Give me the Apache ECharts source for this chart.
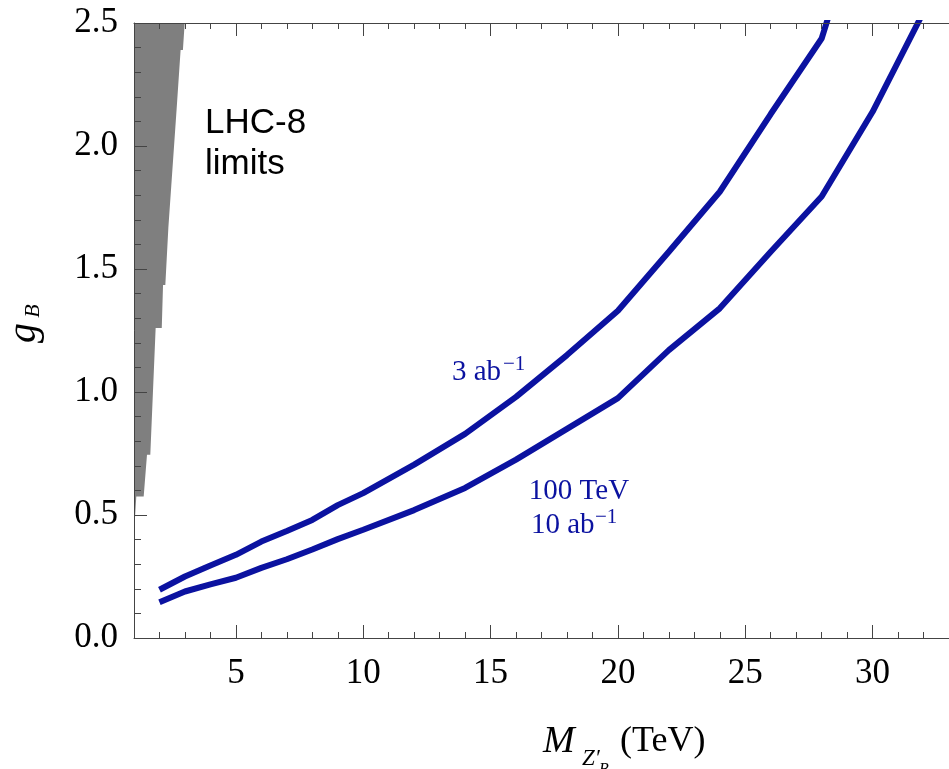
<!DOCTYPE html>
<html>
<head>
<meta charset="utf-8">
<script src="https://cdn.jsdelivr.net/npm/echarts@6/dist/echarts.min.js"></script>
<style>html,body{margin:0;padding:0;background:#fff}#c{width:949px;height:769px}</style>
</head>
<body>
<div id="c"></div>
<script>
// LHC-8 excluded region boundary (M in TeV, g_B)
const lhcX = [1.0, 1.04, 1.09, 1.38, 1.51, 1.64, 1.85, 2.09, 2.14, 2.23, 2.35, 2.40, 2.69, 2.75, 2.83, 2.92, 2.99];
const lhcY = [0.45, 0.49, 0.575, 0.575, 0.745, 0.745, 1.26, 1.26, 1.435, 1.435, 1.67, 1.67, 2.175, 2.175, 2.39, 2.39, 2.5];
// 100 TeV, 3 ab^-1
const mass3 = [2, 3, 4, 5, 6, 7, 8, 9, 10, 12, 14, 16, 18, 20, 22, 24, 26, 28, 30];
const g3 = [0.196, 0.25, 0.295, 0.338, 0.392, 0.435, 0.48, 0.54, 0.589, 0.705, 0.83, 0.98, 1.15, 1.33, 1.57, 1.814, 2.13, 2.437, 3.1];
// 100 TeV, 10 ab^-1
const mass10 = [2, 3, 4, 5, 6, 7, 8, 9, 10, 12, 14, 16, 18, 20, 22, 24, 26, 28, 30, 32];
const g10 = [0.145, 0.189, 0.218, 0.245, 0.285, 0.32, 0.36, 0.402, 0.44, 0.52, 0.61, 0.725, 0.85, 0.975, 1.17, 1.34, 1.57, 1.795, 2.139, 2.545];
const xMajorTicks = [5, 10, 15, 20, 25, 30];

const zip = (a, b) => a.map((v, i) => [v, b[i]]);
const axisColor = '#444';
const serif = '"Liberation Serif", "DejaVu Serif", serif';
const blue = '#0b12a0';

const baseX = {type: 'value', min: 1, max: 33, splitLine: {show: false}, z: 5};
const chart = echarts.init(document.getElementById('c'));
chart.setOption({
  backgroundColor: '#fff',
  animation: false,
  grid: {left: 134, top: 23, bottom: 131, right: -1},
  xAxis: [
    Object.assign({}, baseX, {position: 'bottom',
      axisLine: {show: true, lineStyle: {color: axisColor, width: 1}},
      axisTick: {show: true, inside: true, length: 13, customValues: xMajorTicks, lineStyle: {color: axisColor}},
      axisLabel: {show: true, customValues: xMajorTicks, margin: 18, fontSize: 35, fontFamily: serif, color: '#000'}}),
    Object.assign({}, baseX, {position: 'bottom', interval: 1,
      axisLine: {show: false},
      axisTick: {show: true, inside: true, length: 6, lineStyle: {color: axisColor}},
      axisLabel: {show: false}}),
    Object.assign({}, baseX, {position: 'top',
      axisLine: {show: true, lineStyle: {color: axisColor, width: 1}},
      axisTick: {show: true, inside: true, length: 13, customValues: xMajorTicks, lineStyle: {color: axisColor}},
      axisLabel: {show: false}}),
    Object.assign({}, baseX, {position: 'top', interval: 1,
      axisLine: {show: false},
      axisTick: {show: true, inside: true, length: 6, lineStyle: {color: axisColor}},
      axisLabel: {show: false}})
  ],
  yAxis: [{
    type: 'value', min: 0, max: 2.5, interval: 0.5, position: 'left', z: 5,
    splitLine: {show: false},
    axisLine: {show: true, lineStyle: {color: axisColor, width: 1}},
    axisTick: {show: true, inside: true, length: 13, lineStyle: {color: axisColor}},
    minorTick: {show: true, splitNumber: 5, length: 7, lineStyle: {color: axisColor}},
    axisLabel: {margin: 16, fontSize: 35, fontFamily: serif, color: '#000', formatter: v => v.toFixed(1)}
  }],
  series: [
    {type: 'line', data: zip(lhcX, lhcY), showSymbol: false, z: 1,
     lineStyle: {width: 0}, areaStyle: {color: '#7f7f7f', opacity: 1, origin: 'end'}},
    {type: 'line', data: zip(mass3, g3), showSymbol: false, z: 3, clip: true,
     lineStyle: {color: blue, width: 6}},
    {type: 'line', data: zip(mass10, g10), showSymbol: false, z: 3, clip: true,
     lineStyle: {color: blue, width: 6}}
  ],
  graphic: [
    {type: 'text', left: 205, top: 106, style: {text: 'LHC-8', fontSize: 35, fontFamily: '"Liberation Sans", Arial, sans-serif', fill: '#000'}},
    {type: 'text', left: 205, top: 147, style: {text: 'limits', fontSize: 35, fontFamily: '"Liberation Sans", Arial, sans-serif', fill: '#000'}},
    {type: 'text', x: 452, y: 372, style: {text: '3 ab', fontSize: 29, fontFamily: serif, fill: blue, align: 'left', verticalAlign: 'middle'}},
    {type: 'text', x: 503, y: 364, style: {text: '\u22121', fontSize: 21, fontFamily: serif, fill: blue, align: 'left', verticalAlign: 'middle'}},
    {type: 'text', x: 579, y: 491, style: {text: '100 TeV', fontSize: 29, fontFamily: serif, fill: blue, align: 'center', verticalAlign: 'middle'}},
    {type: 'text', x: 531, y: 525, style: {text: '10 ab', fontSize: 29, fontFamily: serif, fill: blue, align: 'left', verticalAlign: 'middle'}},
    {type: 'text', x: 595, y: 517, style: {text: '\u22121', fontSize: 21, fontFamily: serif, fill: blue, align: 'left', verticalAlign: 'middle'}},
    {type: 'text', x: 543, y: 742, style: {text: 'M', fontSize: 38, fontStyle: 'italic', fontFamily: serif, fill: '#000', align: 'left', verticalAlign: 'middle'}},
    {type: 'text', x: 582, y: 759, style: {text: 'Z\u2032', fontSize: 23, fontStyle: 'italic', fontFamily: serif, fill: '#000', align: 'left', verticalAlign: 'middle'}},
    {type: 'text', x: 599, y: 770, style: {text: 'B', fontSize: 16, fontStyle: 'italic', fontFamily: serif, fill: '#000', align: 'left', verticalAlign: 'middle'}},
    {type: 'text', x: 620, y: 742, style: {text: '(TeV)', fontSize: 36, fontFamily: serif, fill: '#000', align: 'left', verticalAlign: 'middle'}},
    {type: 'text', x: 24, y: 333, rotation: Math.PI / 2, style: {text: 'g', fontSize: 40, fontStyle: 'italic', fontFamily: serif, fill: '#000', align: 'center', verticalAlign: 'middle'}},
    {type: 'text', x: 33, y: 311, rotation: Math.PI / 2, style: {text: 'B', fontSize: 22, fontStyle: 'italic', fontFamily: serif, fill: '#000', align: 'center', verticalAlign: 'middle'}}
  ]
});
</script>
</body>
</html>
